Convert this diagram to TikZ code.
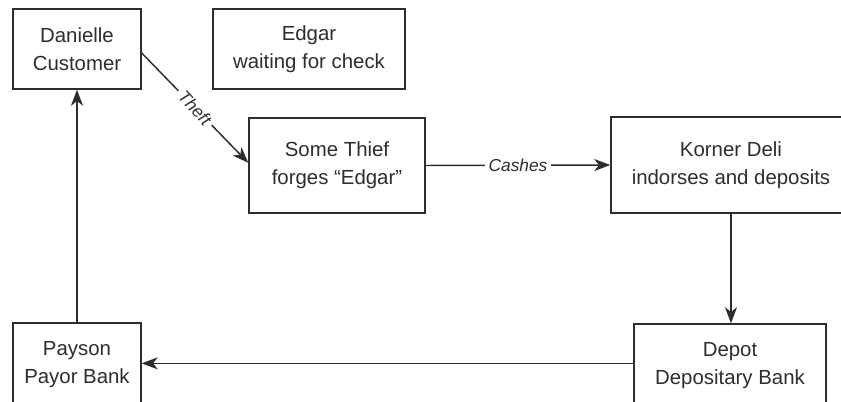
\documentclass[tikz,border=0pt]{standalone}
\usepackage{fontspec}
\setmainfont{Liberation Sans}
\usetikzlibrary{arrows.meta}
\definecolor{ink}{RGB}{45,45,45}

\begin{document}
\begin{tikzpicture}[x=0.75pt,y=0.75pt,yscale=-1,xscale=1,
  party/.style={draw=ink,line width=1.1pt,text=ink,align=center,font=\fontsize{15.3}{21}\selectfont},
  flow/.style={draw=ink,line width=1.1pt,-{Stealth[length=12pt,width=9pt,inset=3.5pt]}},
  tag/.style={fill=white,text=ink,inner sep=3pt,font=\fontsize{13}{15}\selectfont\itshape}]
\useasboundingbox (0,0) rectangle (841,402);

% Text Node
\node [party,minimum width=96pt,minimum height=60pt] (dan) at (77,49) {Danielle\\Customer};
% Text Node
\node [party,minimum width=144pt,minimum height=60pt] (edg) at (309,49) {Edgar\\waiting for check};
% Text Node
\node [party,minimum width=132pt,minimum height=71.25pt] (thf) at (337,165.5) {Some Thief\\forges ``Edgar''};
% Text Node
\node [party,minimum width=180pt,minimum height=72pt] (kor) at (731,165) {Korner Deli\\indorses and deposits};
% Text Node
\node [party,minimum width=144pt,minimum height=63pt] (dep) at (730,366) {Depot\\Depositary Bank};
% Text Node
\node [party,minimum width=96pt,minimum height=63pt] (pay) at (77,365) {Payson\\Payor Bank};

%Straight Lines
\draw [flow] ([yshift=3pt]dan.east) -- ([yshift=-2pt]thf.west) node [tag,midway,rotate=-47] {Theft};
%Straight Lines
\draw [flow] (thf.east) -- (kor.west) node [tag,midway] {Cashes};
%Straight Lines
\draw [flow] (kor.south) -- (kor.south |- dep.north);
%Straight Lines
\draw [flow] ([yshift=-2pt]dep.west) -- ([yshift=-2pt]dep.west -| pay.east);
%Straight Lines
\draw [flow] (pay.north) -- (dan.south);

\end{tikzpicture}
\end{document}
